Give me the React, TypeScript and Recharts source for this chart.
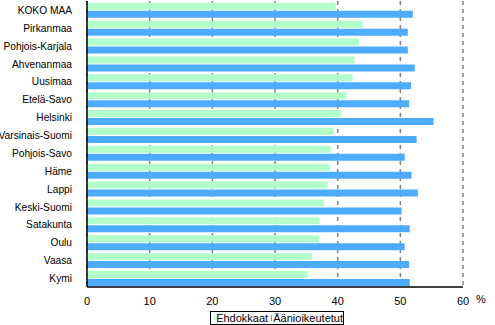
import { BarChart, Bar, XAxis, YAxis, CartesianGrid } from "recharts";

const REGIONS = [
  "KOKO MAA", "Pirkanmaa", "Pohjois-Karjala", "Ahvenanmaa", "Uusimaa", "Etelä-Savo",
  "Helsinki", "Varsinais-Suomi", "Pohjois-Savo", "Häme", "Lappi", "Keski-Suomi",
  "Satakunta", "Oulu", "Vaasa", "Kymi",
];
const EHDOKKAAT = [39.7, 44.0, 43.4, 42.7, 42.4, 41.4, 40.6, 39.4, 38.9, 38.7, 38.4, 37.8, 37.1, 37.0, 35.9, 35.1];
const AANIOIKEUTETUT = [52.0, 51.2, 51.2, 52.3, 51.7, 51.4, 55.3, 52.6, 50.7, 51.8, 52.8, 50.2, 51.5, 50.7, 51.4, 51.5];
const X_TICKS = [0, 10, 20, 30, 40, 50, 60];

const GREEN = "#b3ffcc";
const BLUE = "#4dacff";
const FONT = "'Liberation Sans', Arial, sans-serif";

const data = REGIONS.map((name, i) => ({ name, ehd: EHDOKKAAT[i], aan: AANIOIKEUTETUT[i] }));

// plain text tick so long names never wrap
function RegionTick(props: any) {
  const { x, y, payload } = props;
  return (
    <text x={x} y={y} dx={-1} dy={4} textAnchor="end" fill="#000" fontSize={10.2} fontFamily={FONT}>
      {payload.value}
    </text>
  );
}

export default function App() {
  return (
    <div style={{ position: "absolute", left: 0, top: 0, width: 495, height: 325, background: "#fff", fontFamily: FONT }}>
      <BarChart
        width={495}
        height={325}
        data={data}
        layout="vertical"
        margin={{ top: 1, right: 32, left: 0, bottom: 18 }}
        barCategoryGap="10%"
        barGap={1}
      >
        <CartesianGrid horizontal={false} stroke="#808080" strokeWidth={1.5} strokeDasharray="4 4" />
        <XAxis
          type="number"
          domain={[0, 60]}
          ticks={X_TICKS}
          height={20}
          tickLine={false}
          axisLine={{ stroke: "#000", strokeWidth: 1.5 }}
          tick={{ fill: "#000", fontSize: 11, fontFamily: FONT }}
          tickMargin={4}
        />
        <XAxis xAxisId="top" orientation="top" type="number" domain={[0, 60]} height={0} tick={false} tickLine={false} axisLine={{ stroke: "#000", strokeWidth: 1.5 }} />
        <YAxis
          type="category"
          dataKey="name"
          width={87}
          tickLine={false}
          axisLine={{ stroke: "#000", strokeWidth: 1.5 }}
          tick={<RegionTick />}
          tickMargin={8}
          interval={0}
        />
        <YAxis yAxisId="right" orientation="right" type="category" dataKey="name" width={0} tick={false} tickLine={false} axisLine={{ stroke: "#000", strokeWidth: 1.5 }} />
        <Bar dataKey="ehd" name="Ehdokkaat" fill={GREEN} isAnimationActive={false} />
        <Bar dataKey="aan" name="Äänioikeutetut" fill={BLUE} isAnimationActive={false} />
      </BarChart>
      <div style={{ position: "absolute", left: 476, top: 293, fontSize: 11 }}>%</div>
      <div
        style={{
          position: "absolute", left: 210, top: 311, width: 132, height: 12, border: "1px solid #000",
          display: "flex", alignItems: "center", fontSize: 11, lineHeight: "12px", whiteSpace: "nowrap",
        }}
      >
        <span style={{ display: "inline-block", width: 6, height: 6, background: GREEN, margin: "0 2px 0 3px" }} />
        <span>Ehdokkaat</span>
        <span style={{ display: "inline-block", width: 6, height: 6, background: BLUE, margin: "0 2px 0 3px" }} />
        <span>Äänioikeutetut</span>
      </div>
    </div>
  );
}
